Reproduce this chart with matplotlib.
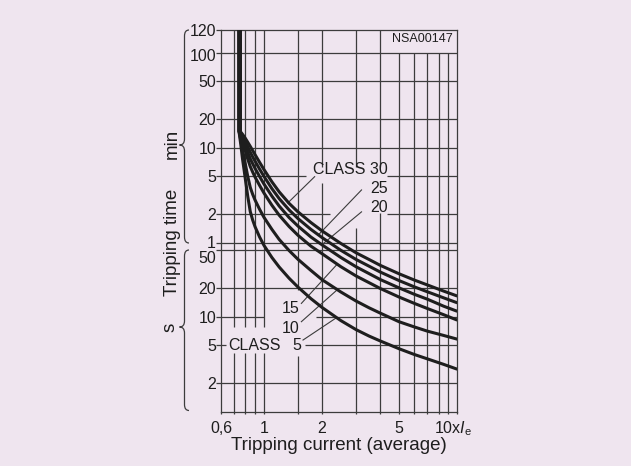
import numpy as np
import matplotlib
matplotlib.use("Agg")
import matplotlib.pyplot as plt
from matplotlib.path import Path
from matplotlib.patches import PathPatch
from matplotlib.ticker import FixedLocator, NullLocator, NullFormatter

plt.rcParams['font.family'] = ['Liberation Sans', 'DejaVu Sans']
plt.rcParams['mathtext.fontset'] = 'custom'
plt.rcParams['mathtext.rm'] = 'Liberation Sans'
plt.rcParams['mathtext.it'] = 'Liberation Sans:italic'

# ---------------- data (tripping time in seconds vs multiple of Ie) ----------------
classes = [5, 10, 15, 20, 25, 30]
current_x = [0.76, 0.775, 0.79, 0.8, 0.825, 0.85, 0.875, 0.9, 0.95, 1.0, 1.1, 1.2, 1.35,
             1.5, 1.75, 2, 2.5, 3, 3.5, 4, 5, 6, 7, 8.5, 10]
time_class5 = [640, 460, 350, 290, 185, 128, 104, 88.5, 69, 56.5, 42, 33.3, 25.4,
               20.5, 15.5, 12.5, 9.1, 7.3, 6.25, 5.55, 4.6, 4.0, 3.6, 3.15, 2.8]
time_class10 = [718, 573, 473, 414, 300, 230, 194, 169, 135, 111.5, 83, 65, 49.7,
                40.2, 30.7, 24.5, 18.2, 14.6, 12.4, 10.9, 8.85, 7.8, 7.05, 6.35, 5.8]
time_class15 = [794, 693, 613, 564, 457, 381, 333, 295, 241, 201, 149, 117, 89,
                72, 55.3, 46, 33.6, 26.8, 22.8, 19.8, 16.1, 13.8, 12.2, 10.5, 9.2]
time_class20 = [824, 743, 676, 632, 535, 460, 408, 364, 299, 250, 186, 146, 110.5,
                90, 69, 57, 42, 33.5, 28.4, 24.6, 20.1, 17.2, 15.3, 12.9, 11.4]
time_class25 = [850, 790, 733, 697, 610, 538, 482, 434, 358, 301, 223, 175, 133,
                108, 83, 68, 50, 40, 34, 29.5, 24, 20.6, 18.3, 15.8, 14.0]
time_class30 = [875, 833, 789, 760, 687, 621, 561, 508, 422, 355, 263, 206, 156,
                127, 98, 80, 59, 47, 40, 34.7, 28.3, 24.3, 21.6, 18.6, 16.5]
asymptote_x = [0.743, 0.743, 0.743, 0.755, 0.755, 0.755]
fan_start_s = 900
top_s = 7200

x_tick_vals = [0.6, 1, 2, 5]
x_tick_labels = ['0,6', '1', '2', '5']
x_last_label = '10x$\\mathit{I}_{\\mathrm{e}}$'
y_tick_vals = [2, 5, 10, 20, 50, 60, 120, 300, 600, 1200, 3000, 6000, 7200]
y_tick_labels = ['2', '5', '10', '20', '50', '1', '2', '5', '10', '20', '50', '100', '120']
y_label_shift = [0, 0, 0, 0, -4.8, 0.5, 0, 0, 0, 0, 0, -1.5, 0]

W, H = 631, 466
BG = '#efe5ef'
INK = '#1e1e1e'
GRID = '#3c3c3c'

# ---------------- y scale: log, with stretched top cell 100..120 min ----------------
B = np.log10(6000.0)
STRETCH = 0.24


def fwd(s):
    s = np.asarray(s, dtype=float)
    with np.errstate(divide='ignore', invalid='ignore'):
        lg = np.log10(np.where(s > 0, s, np.nan))
    return np.where(s > 6000, B + (s - 6000) / 1200 * STRETCH, lg)


def inv(v):
    v = np.asarray(v, dtype=float)
    with np.errstate(over='ignore', invalid='ignore'):
        return np.where(v > B, 6000 + (v - B) / STRETCH * 1200, 10 ** np.minimum(v, 300))


fig = plt.figure(figsize=(W / 100, H / 100), dpi=100, facecolor=BG)


def fp(x, y):
    return (x / W, 1 - y / H)


ax = fig.add_axes([221 / W, 1 - 411.7 / H, 236.3 / W, 381.7 / H])
ax.set_facecolor(BG)
ax.set_xscale('log')
ax.set_yscale('function', functions=(fwd, inv))
ax.set_xlim(0.6, 10)
ax.set_ylim(1, 7200)

for sp in ax.spines.values():
    sp.set_color(GRID)
    sp.set_linewidth(0.9)

xgrid = [0.7, 0.8, 0.9, 1, 1.5, 2, 3, 4, 5, 6, 7, 8, 9]
ax.xaxis.set_major_locator(FixedLocator([0.6] + xgrid + [10]))
ax.xaxis.set_minor_locator(NullLocator())
ax.xaxis.set_major_formatter(NullFormatter())
ax.xaxis.set_minor_formatter(NullFormatter())
ax.yaxis.set_major_locator(FixedLocator(y_tick_vals))
ax.yaxis.set_minor_locator(NullLocator())
ax.yaxis.set_major_formatter(NullFormatter())
ax.yaxis.set_minor_formatter(NullFormatter())
ax.tick_params(axis='x', which='both', direction='out', length=1.6, width=0.9, color=GRID)
ax.tick_params(axis='y', which='both', direction='out', length=3.4, width=0.9, color=GRID)

# ---------------- grid with gaps around labels ----------------
low_gap = [(1, 4.1), (7.8, 7200)]
vgrid = [
    (0.7, low_gap), (0.8, low_gap), (0.9, low_gap), (1.0, low_gap),
    (1.5, [(1, 3.86), (19.1, 7200)]),
    (2, [(1, 254), (379, 7200)]),
    (3, [(1, 85), (379, 7200)]),
    (4, [(1, 123.5), (379, 7200)]),
    (5, [(1, 6000)]), (6, [(1, 6000)]), (7, [(1, 6000)]),
    (8, [(1, 6000)]), (9, [(1, 6000)]),
]
full = [(0.6, 10)]
hgrid = [
    (2, full), (5, [(0.6, 0.639), (1.625, 10)]), (10, [(0.6, 1.0), (1.87, 10)]),
    (20, full), (50, full), (60, full),
    (120, [(0.6, 2.19), (4.31, 10)]), (300, [(0.6, 1.658), (4.31, 10)]),
    (600, full), (1200, full), (3000, full), (6000, full),
]
for xv, segs in vgrid:
    for a, b in segs:
        ax.plot([xv, xv], [a, b], color=GRID, lw=0.9, zorder=1, solid_capstyle='butt')
for yv, segs in hgrid:
    for a, b in segs:
        ax.plot([a, b], [yv, yv], color=GRID, lw=0.9, zorder=1, solid_capstyle='butt')

# ---------------- curves ----------------
series = [time_class5, time_class10, time_class15, time_class20, time_class25, time_class30]
for x0, vals in zip(asymptote_x, series):
    xs = [x0, x0] + current_x
    ys = [top_s, fan_start_s] + vals
    ax.plot(xs, ys, color=INK, lw=2.2, zorder=3, solid_joinstyle='round', solid_capstyle='butt')

# ---------------- class labels and leaders ----------------
lab_kw = dict(fontsize=11.5, color=INK, zorder=4)
ax.text(4.39, 318, 'CLASS 30', ha='right', va='baseline', **lab_kw)
ax.text(4.39, 202, '25', ha='right', va='baseline', **lab_kw)
ax.text(4.39, 127, '20', ha='right', va='baseline', **lab_kw)
ax.text(1.531, 10.86, '15', ha='right', va='baseline', **lab_kw)
ax.text(1.531, 6.69, '10', ha='right', va='baseline', **lab_kw)
ax.text(1.562, 4.46, '5', ha='right', va='baseline', **lab_kw)
ax.text(0.651, 4.46, 'CLASS', ha='left', va='baseline', **lab_kw)

leaders = [
    ((1.83, 298), (1.331, 158)),
    ((3.197, 216), (1.905, 72)),
    ((3.197, 127), (1.99, 57)),
    ((1.562, 13.8), (2.372, 35)),
    ((1.562, 8.86), (2.38, 19)),
    ((1.593, 5.68), (2.38, 9.8)),
]
for (xa, ya), (xb, yb) in leaders:
    ax.plot([xa, xb], [ya, yb], color=GRID, lw=0.8, zorder=2)

ax.text(0.8536, 0.9764, 'NSA00147', transform=ax.transAxes, ha='center', va='center',
        fontsize=9, color=INK)

# ---------------- tick labels ----------------
for v, lab, dy in zip(y_tick_vals, y_tick_labels, y_label_shift):
    ax.annotate(lab, xy=(0, v), xycoords=('axes fraction', 'data'), xytext=(-3.6, dy),
                textcoords='offset points', ha='right', va='center_baseline',
                fontsize=11.5, color=INK, annotation_clip=False)
for v, lab in zip(x_tick_vals, x_tick_labels):
    ax.annotate(lab, xy=(v, 0), xycoords=('data', 'axes fraction'), xytext=(0, -15.3),
                textcoords='offset points', ha='center', va='baseline',
                fontsize=11.5, color=INK, annotation_clip=False)
ax.annotate(x_last_label, xy=(10, 0), xycoords=('data', 'axes fraction'), xytext=(-16.5, -15.3),
            textcoords='offset points', ha='left', va='baseline',
            fontsize=11.5, color=INK, annotation_clip=False)

# ---------------- axis titles ----------------
fig.text(*fp(339, 446), 'Tripping current (average)', ha='center', va='center',
         fontsize=13.5, color=INK)
fig.text(*fp(172, 242), 'Tripping time', ha='center', va='center', rotation=90,
         fontsize=13.5, color=INK)
fig.text(*fp(172, 143.5), 'min', ha='center', va='center', rotation=90, fontsize=13.5, color=INK)
fig.text(*fp(170, 327), 's', ha='center', va='center', rotation=90, fontsize=13.5, color=INK)


def brace(x_end, x_line, x_tip, y0, yc, y1, r=6):
    pts = [(x_end, y0), (x_line, y0), (x_line, y0 + r), (x_line, yc - r), (x_line, yc),
           (x_tip, yc), (x_line, yc), (x_line, yc + r), (x_line, y1 - r), (x_line, y1),
           (x_end, y1)]
    codes = [Path.MOVETO, Path.CURVE3, Path.CURVE3, Path.LINETO, Path.CURVE3, Path.CURVE3,
             Path.CURVE3, Path.CURVE3, Path.LINETO, Path.CURVE3, Path.CURVE3]
    verts = [fp(x, y) for x, y in pts]
    patch = PathPatch(Path(verts, codes), transform=fig.transFigure, fill=False,
                      edgecolor=GRID, lw=0.9)
    fig.add_artist(patch)


brace(189, 184.5, 179.5, 30, 145, 243)
brace(189, 184.5, 179.5, 250, 327, 410.5)

fig.savefig('out.png', dpi=100, facecolor=BG)
